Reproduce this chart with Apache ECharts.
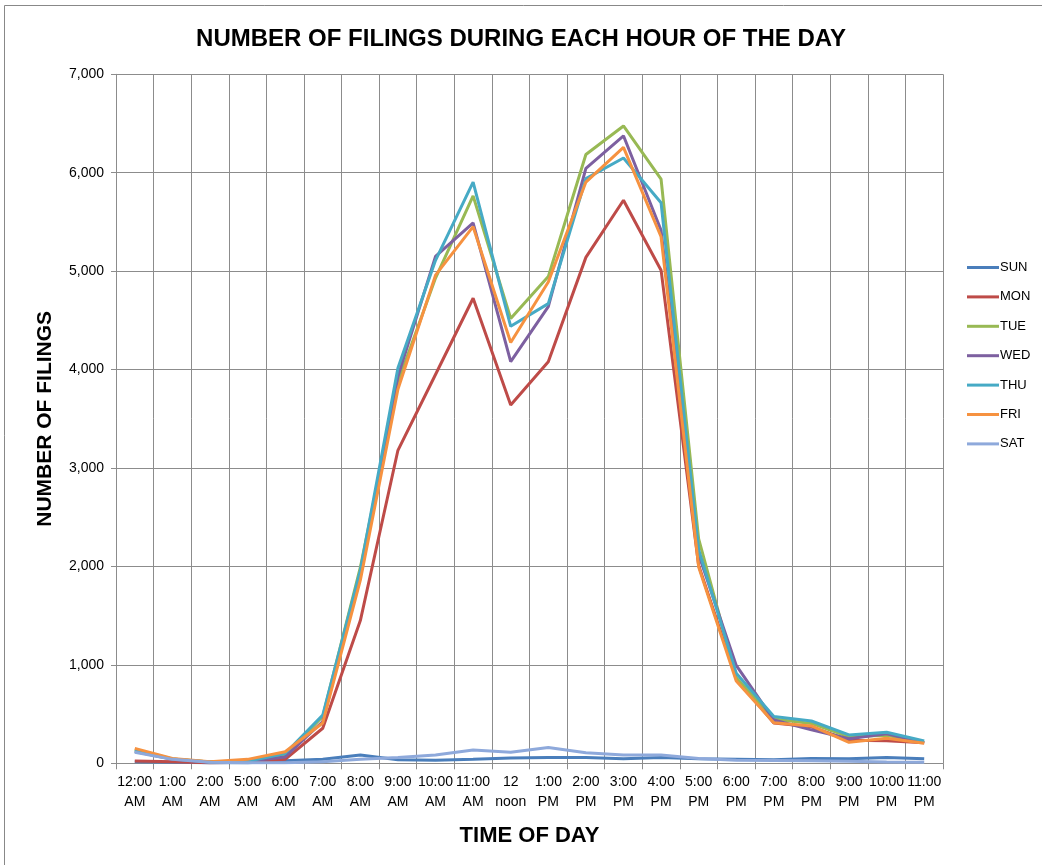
<!DOCTYPE html>
<html>
<head>
<meta charset="utf-8">
<script src="https://cdn.jsdelivr.net/npm/echarts@6/dist/echarts.min.js"></script>
<style>
html,body{margin:0;padding:0;background:#fff;}
#chart{width:1042px;height:865px;}
</style>
</head>
<body>
<div id="chart"></div>
<script>
const categories = ['12:00\nAM','1:00\nAM','2:00\nAM','5:00\nAM','6:00\nAM','7:00\nAM','8:00\nAM','9:00\nAM','10:00\nAM','11:00\nAM','12\nnoon','1:00\nPM','2:00\nPM','3:00\nPM','4:00\nPM','5:00\nPM','6:00\nPM','7:00\nPM','8:00\nPM','9:00\nPM','10:00\nPM','11:00\nPM'];
const seriesNames = ['SUN','MON','TUE','WED','THU','FRI','SAT'];
const sun = [15,10,5,5,25,40,85,35,30,40,55,60,60,45,60,45,40,35,50,45,60,45];
const mon = [23,15,5,10,40,356,1450,3180,3950,4725,3640,4080,5140,5720,5010,2010,860,410,370,235,230,210];
const tue = [140,45,12,20,85,475,1990,3870,4930,5765,4520,4945,6185,6475,5935,2280,870,450,405,270,285,210];
const wed = [120,40,10,20,65,425,1930,3930,5150,5490,4080,4640,6045,6375,5415,2120,995,440,340,250,300,210];
const thu = [128,45,12,20,100,490,1960,4015,5110,5905,4440,4670,5940,6150,5695,2170,915,475,430,288,315,227];
const fri = [152,50,15,40,118,410,1860,3800,4960,5452,4275,4890,5905,6258,5350,1995,835,412,380,213,255,203];
const sat = [112,40,10,5,5,15,40,60,85,135,112,160,108,84,84,48,30,28,25,20,12,10];
const yTicks = [0,1000,2000,3000,4000,5000,6000,7000];
const colors = ['#4A7EBB','#BE4B48','#98B954','#7D60A0','#46AAC5','#F69240','#8EA9DB'];

const allData = [sun,mon,tue,wed,thu,fri,sat];
const boldFont = '"Liberation Sans", Arial, sans-serif';
const chart = echarts.init(document.getElementById('chart'));
chart.setOption({
  animation:false,
  backgroundColor:'#fff',
  color: colors,
  title:{
    text:'NUMBER OF FILINGS DURING EACH HOUR OF THE DAY',
    left:'center', top:22,
    textStyle:{fontFamily:boldFont,fontWeight:'bold',fontSize:24,color:'#000'}
  },
  graphic:[{type:'rect',shape:{x:4.5,y:5.5,width:1100,height:1000},style:{fill:'none',stroke:'#888',lineWidth:1},silent:true,z:-10}],
  legend:{
    orient:'vertical', left:962, top:256,
    itemWidth:32, itemHeight:3, itemGap:16.4,
    icon:'rect',
    data:seriesNames,
    textStyle:{fontFamily:'"Liberation Sans", Arial, sans-serif',fontSize:13,color:'#000',padding:[0,0,0,-4]}
  },
  grid:{left:116,right:99,top:74.3,bottom:101.7,containLabel:false},
  xAxis:{
    type:'category', data:categories, boundaryGap:true,
    name:'TIME OF DAY', nameLocation:'middle', nameGap:62,
    nameTextStyle:{fontFamily:boldFont,fontWeight:'bold',fontSize:22,color:'#000'},
    axisLine:{show:true,lineStyle:{color:'#8c8c8c',width:1}},
    axisTick:{show:true,interval:0,length:6,lineStyle:{color:'#8c8c8c'}},
    axisLabel:{interval:0,color:'#000',fontFamily:'"Liberation Sans", Arial, sans-serif',fontSize:14,lineHeight:20,margin:9},
    splitLine:{show:true,interval:0,lineStyle:{color:'#8c8c8c',width:1}}
  },
  yAxis:{
    type:'value', min:0, max:7000, interval:1000,
    name:'NUMBER OF FILINGS', nameLocation:'middle', nameGap:60, nameRotate:90,
    nameTextStyle:{fontFamily:boldFont,fontWeight:'bold',fontSize:21,color:'#000'},
    axisLine:{show:true,lineStyle:{color:'#8c8c8c',width:1}},
    axisTick:{show:true,length:5,lineStyle:{color:'#8c8c8c'}},
    axisLabel:{color:'#000',fontFamily:'"Liberation Sans", Arial, sans-serif',fontSize:14,margin:12,
      formatter:v=>yTicks.includes(v)?v.toLocaleString('en-US'):''},
    splitLine:{show:true,lineStyle:{color:'#8c8c8c',width:1}}
  },
  series: seriesNames.map((n,i)=>({
    name:n, type:'line', data:allData[i], showSymbol:false, symbol:'none',
    lineStyle:{width:3,color:colors[i]}, itemStyle:{color:colors[i]}, z:2+i
  }))
});
</script>
</body>
</html>
